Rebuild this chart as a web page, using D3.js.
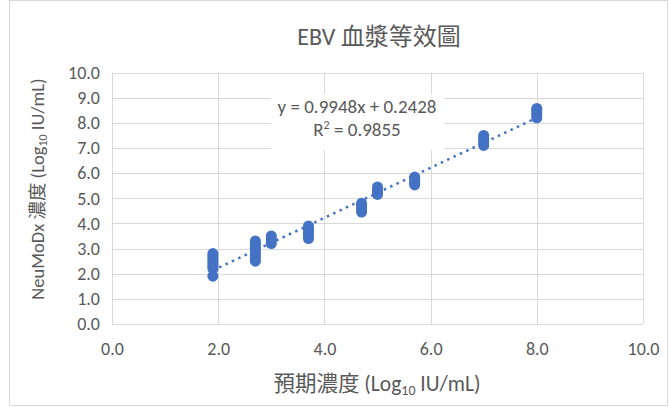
<!DOCTYPE html>
<html>
<head>
<meta charset="utf-8">
<script src="https://cdn.jsdelivr.net/npm/d3@7"></script>
<style>
  html, body { margin: 0; padding: 0; background: #fff; }
  svg { display: block; }
  text { font-family: Carlito, Calibri, "Liberation Sans", "Noto Sans CJK TC", sans-serif; fill: #595959; }
</style>
</head>
<body>
<script>
// Expected concentration levels (Log10 IU/mL) and measured NeuMoDx results per level
const expectedLevels = [1.9, 2.7, 3.0, 3.7, 4.7, 5.0, 5.7, 7.0, 8.0];
const measuredValues = [
  [1.9, 2.2, 2.3, 2.4, 2.5, 2.6, 2.7, 2.8],
  [2.5, 2.6, 2.7, 2.8, 2.9, 3.0, 3.1, 3.2, 3.3],
  [3.2, 3.3, 3.4, 3.5],
  [3.4, 3.5, 3.6, 3.7, 3.8, 3.9],
  [4.45, 4.55, 4.65, 4.75, 4.8],
  [5.15, 5.25, 5.35, 5.45],
  [5.53, 5.6, 5.7, 5.8, 5.84],
  [7.1, 7.2, 7.3, 7.4, 7.5],
  [8.2, 8.3, 8.4, 8.5, 8.57]
];
const xTicks = [0, 2, 4, 6, 8, 10];
const yTicks = [0, 1, 2, 3, 4, 5, 6, 7, 8, 9, 10];
const trendSlope = 0.9948;
const trendIntercept = 0.2428;
const rSquared = 0.9855;

const W = 669, H = 407;
const plot = { left: 112, right: 643, top: 72.5, bottom: 324 };
const color = "#4472C4";
const grid = "#d9d9d9";

const svg = d3.select("body").append("svg").attr("width", W).attr("height", H);

// chart frame
svg.append("rect").attr("x", 9.5).attr("y", 0.5).attr("width", 658).attr("height", 405)
  .attr("fill", "#fff").attr("stroke", grid);

const x = d3.scaleLinear().domain([0, 10]).range([plot.left, plot.right]);
const y = d3.scaleLinear().domain([0, 10]).range([plot.bottom, plot.top]);

// gridlines
const g = svg.append("g");
g.selectAll("line.h").data(yTicks).join("line")
  .attr("x1", plot.left).attr("x2", plot.right)
  .attr("y1", d => Math.round(y(d)) + 0.5).attr("y2", d => Math.round(y(d)) + 0.5)
  .attr("stroke", grid);
g.selectAll("line.v").data(xTicks).join("line")
  .attr("y1", plot.top).attr("y2", plot.bottom)
  .attr("x1", d => Math.round(x(d)) + 0.5).attr("x2", d => Math.round(x(d)) + 0.5)
  .attr("stroke", grid);

// tick labels via d3 axes
const fmt = d3.format(".1f");
const yAxis = svg.append("g").attr("transform", `translate(${plot.left - 12},0)`)
  .call(d3.axisLeft(y).tickValues(yTicks).tickFormat(fmt).tickSize(0).tickPadding(0));
const xAxis = svg.append("g").attr("transform", `translate(0,${plot.bottom + 18})`)
  .call(d3.axisBottom(x).tickValues(xTicks).tickFormat(fmt).tickSize(0).tickPadding(0));
[yAxis, xAxis].forEach(a => {
  a.select(".domain").remove();
  a.selectAll("text").attr("font-size", 18).attr("fill", "#595959")
    .style("font-family", 'Carlito, Calibri, "Liberation Sans", sans-serif');
});

// trendline across the range of expected levels
const x0 = d3.min(expectedLevels), x1 = d3.max(expectedLevels);
svg.append("line")
  .attr("x1", x(x0)).attr("y1", y(trendSlope * x0 + trendIntercept))
  .attr("x2", x(x1)).attr("y2", y(trendSlope * x1 + trendIntercept))
  .attr("stroke", color).attr("stroke-width", 2.5)
  .attr("stroke-dasharray", "2.5 4.5");

// data points
const pts = expectedLevels.flatMap((lv, i) => measuredValues[i].map(v => ({ lv, v })));
svg.append("g").selectAll("circle").data(pts).join("circle")
  .attr("cx", d => x(d.lv)).attr("cy", d => y(d.v)).attr("r", 5.5)
  .attr("fill", color);

// regression label
const lab = svg.append("g");
lab.append("rect").attr("x", 271).attr("y", 94).attr("width", 173).attr("height", 56).attr("fill", "#fff");
lab.append("text").attr("x", 357).attr("y", 113).attr("text-anchor", "middle").attr("font-size", 19)
  .text(`y = ${trendSlope}x + ${trendIntercept}`);
const r2 = lab.append("text").attr("x", 357).attr("y", 136).attr("text-anchor", "middle").attr("font-size", 19);
r2.append("tspan").text("R");
r2.append("tspan").attr("font-size", 12).attr("dy", -7).text("2");
r2.append("tspan").attr("dy", 7).text(` = ${rSquared}`);

// title
svg.append("text").attr("x", 379).attr("y", 45).attr("text-anchor", "middle").attr("font-size", 24)
  .text("EBV 血漿等效圖");

// axis titles with subscript 10
function axisTitle(sel, pre, post, size) {
  sel.append("tspan").text(pre);
  sel.append("tspan").attr("font-size", size * 0.65).attr("dy", size * 0.18).text("10");
  sel.append("tspan").attr("dy", -size * 0.18).text(post);
}
const xt = svg.append("text").attr("x", 377).attr("y", 391).attr("text-anchor", "middle").attr("font-size", 21.5);
axisTitle(xt, "預期濃度 (Log", " IU/mL)", 21.5);
const yt = svg.append("text").attr("transform", "translate(44,189) rotate(-90)")
  .attr("text-anchor", "middle").attr("font-size", 18.5);
axisTitle(yt, "NeuMoDx 濃度 (Log", " IU/mL)", 18.5);
</script>
</body>
</html>
